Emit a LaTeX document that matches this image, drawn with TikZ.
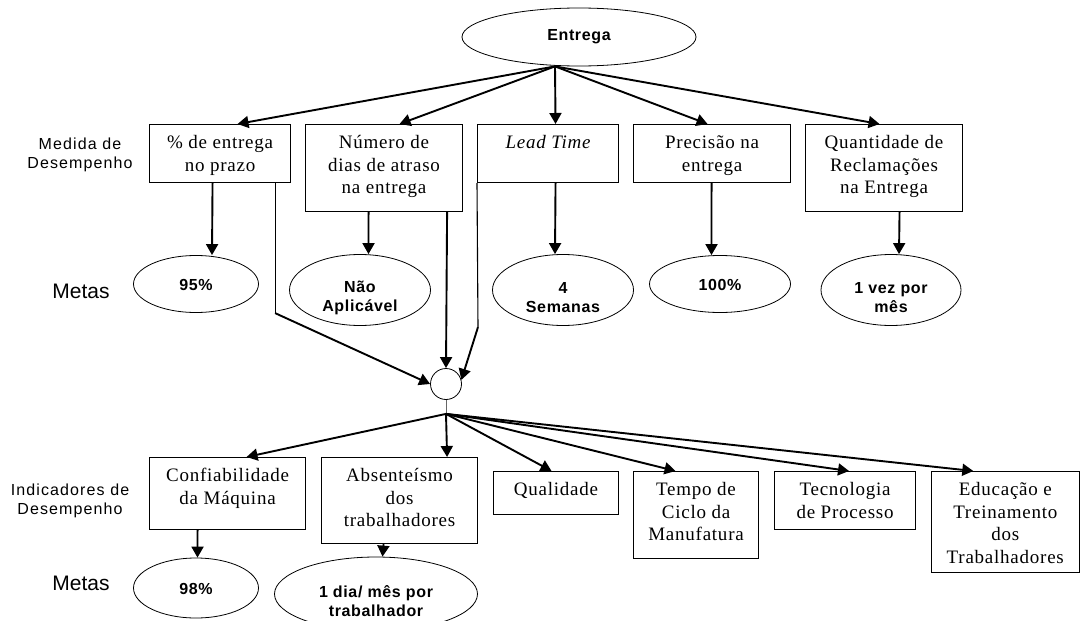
\documentclass[tikz,border=0pt]{standalone}
\usepackage{fontspec}
\setmainfont{Liberation Serif}
\newfontfamily\serifbox[LetterSpace=4]{Liberation Serif}
\newfontfamily\sanslab[LetterSpace=7]{Liberation Sans}
\newfontfamily\sansgoal[LetterSpace=4]{Liberation Sans}
\newfontfamily\sansplain{Liberation Sans}
\usetikzlibrary{arrows.meta,shapes.geometric}

% fixed-size box contents with the text hanging from the top edge
\newcommand{\boxtext}[3]{\parbox[c][#2][t]{#1}{\centering
  \fontsize{19}{22.5}\selectfont\serifbox\vspace*{8.5pt}\strut #3}}

\tikzset{
  mbox/.style={draw, line width=1.1pt, inner sep=0pt, anchor=north west},
  goal/.style={draw, ellipse, line width=0.8pt, inner sep=0pt},
  goaltxt/.style={align=center, inner sep=0pt,
    font=\fontsize{16}{19}\selectfont\sansgoal\bfseries},
  rowlab/.style={align=center, inner sep=0pt,
    font=\fontsize{16}{19}\selectfont\sanslab},
  metalab/.style={inner sep=0pt, font=\fontsize{21}{25}\selectfont\sansplain},
  arr/.style={line width=1.9pt, -{Triangle[length=11pt,width=12pt]}},
  thinline/.style={line width=1.1pt},
  stem/.style={line width=1pt, draw=black!60},
}

\begin{document}
\begin{tikzpicture}[x=1pt, y=-1pt]
\useasboundingbox (0,0) rectangle (1080,621);

% top goal
\node[goal, minimum width=234pt, minimum height=58pt,
      font=\fontsize{16}{19}\selectfont\sansgoal\bfseries] (ent) at (579,37) {Entrega};

% row labels
\node[rowlab] (lab1) at (80,155) {Medida de\\Desempenho};
\node[metalab] (met1) at (81,291) {Metas};
\node[rowlab] (lab2) at (70,501) {Indicadores de\\Desempenho};
\node[metalab] (met2) at (81,583) {Metas};

% performance measures
\node[mbox] (m1) at (149,124) {\boxtext{141pt}{58pt}{\% de entrega\\no prazo}};
\node[mbox] (m2) at (305,124) {\boxtext{157pt}{87pt}{Número de\\dias de atraso\\na entrega}};
\node[mbox] (m3) at (477,124) {\boxtext{141pt}{58pt}{\itshape Lead Time}};
\node[mbox] (m4) at (633,124) {\boxtext{157pt}{58pt}{Precisão na\\entrega}};
\node[mbox] (m5) at (805,124) {\boxtext{157pt}{87pt}{Quantidade de\\Reclamações\\na Entrega}};

% targets for the measures
\node[goal, minimum width=125pt, minimum height=57pt] (g1) at (196,284) {};
\node[goal, minimum width=141pt, minimum height=71pt] (g2) at (360,290) {};
\node[goal, minimum width=141pt, minimum height=71pt] (g3) at (563,290) {};
\node[goal, minimum width=141pt, minimum height=57pt] (g4) at (720,284) {};
\node[goal, minimum width=140pt, minimum height=71pt] (g5) at (891,290) {};
\node[goaltxt] (g1t) at (196,285) {95\%};
\node[goaltxt] (g2t) at (360,298) {Não\\Aplicável};
\node[goaltxt] (g3t) at (563,298) {4\\Semanas};
\node[goaltxt] (g4t) at (720,285) {100\%};
\node[goaltxt] (g5t) at (891,298) {1 vez por\\mês};

% junction
\node[draw, circle, line width=0.8pt, minimum size=31pt, inner sep=0pt] (c) at (446,384) {};
\coordinate (hub) at ([yshift=-14pt]c.south);

% performance indicators
\node[mbox] (i1) at (149,457) {\boxtext{156pt}{72pt}{Confiabilidade\\da Máquina}};
\node[mbox] (i2) at (321,457) {\boxtext{156pt}{86pt}{Absenteísmo\\dos\\trabalhadores}};
\node[mbox] (i3) at (493,471) {\boxtext{125pt}{43pt}{Qualidade}};
\node[mbox] (i4) at (633,471) {\boxtext{125pt}{87pt}{Tempo de\\Ciclo da\\Manufatura}};
\node[mbox] (i5) at (774,471) {\boxtext{141pt}{58pt}{Tecnologia\\de Processo}};
\node[mbox] (i6) at (931,471) {\boxtext{147.5pt}{101pt}{Educação e\\Treinamento\\dos\\Trabalhadores}};

% targets for the indicators
\node[goal, minimum width=125pt, minimum height=60pt] (h1) at (196,588) {};
\node[goal, minimum width=203pt, minimum height=74pt] (h2) at (376,594) {};
\node[goaltxt] (h1t) at (196,589) {98\%};
\node[goaltxt] (h2t) at (376,601) {1 dia/ mês por\\trabalhador};

% fan from the top goal
\coordinate (src) at ([xshift=-24pt]ent.south);
\draw[arr] (src) -- ([xshift=17.5pt]m1.north);
\draw[arr] (src) -- ([xshift=15.5pt]m2.north);
\draw[arr] (src) -- ([xshift=7.5pt]m3.north);
\draw[arr] (src) -- ([xshift=-4.5pt]m4.north);
\draw[arr] (src) -- ([xshift=-4.5pt]m5.north);

% measures to their targets
\draw[arr] ([xshift=-7.5pt]m1.south) -- ([xshift=16pt]g1.north);
\draw[arr] ([xshift=-15.5pt]m2.south) -- ([xshift=8.5pt]g2.north);
\draw[arr] ([xshift=7.5pt]m3.south) -- ([xshift=-8pt]g3.north);
\draw[arr] ([xshift=-0.5pt]m4.south) -- ([xshift=-8.5pt]g4.north);
\draw[arr] ([xshift=15.5pt]m5.south) -- ([xshift=8pt]g5.north);

% measures into the junction
\draw[thinline] ([xshift=-16pt]m1.south east) -- ++(0,130) coordinate (k1);
\draw[arr] (k1) -- (c.west);
\draw[arr] ([xshift=-16pt]m2.south east) -- (c.north);
\draw[thinline] (m3.south west) -- ++(1,144) coordinate (k3);
\draw[arr] (k3) -- (c.15);

% junction to the indicators
\draw[stem] (c.south) -- (hub);
\draw[arr] (hub) -- ([xshift=19pt]i1.north);
\draw[arr] (hub) -- ([xshift=-31pt]i2.north east);
\draw[arr] (hub) -- ([xshift=-4.5pt]i3.north);
\draw[arr] (hub) -- ([xshift=-20.5pt]i4.north);
\draw[arr] (hub) -- ([xshift=4pt]i5.north);
\draw[arr] (hub) -- ([xshift=-32pt]i6.north);

% indicators to their targets
\draw[arr] ([xshift=-30pt]i1.south) -- ([xshift=1.5pt]h1.north);
\draw[arr] ([xshift=-16pt]i2.south) -- ([xshift=6.5pt]h2.north);
\end{tikzpicture}
\end{document}
